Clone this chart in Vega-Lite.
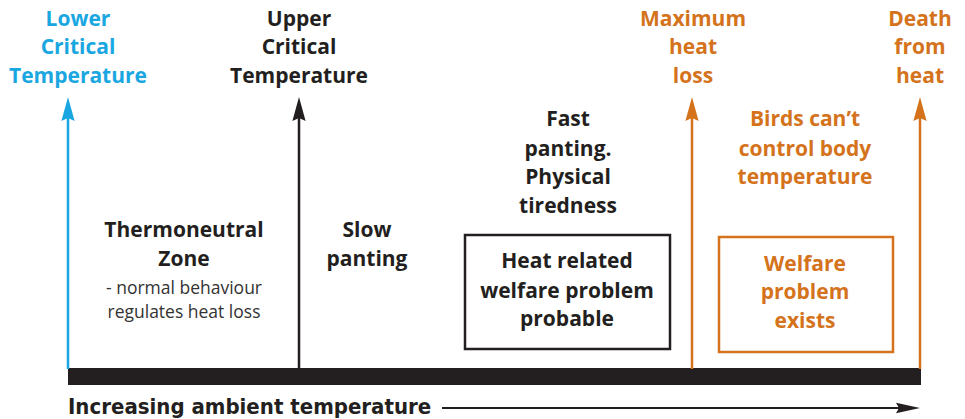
{
  "$schema": "https://vega.github.io/schema/vega-lite/v6.json",
  "width": 965,
  "height": 419,
  "autosize": {"type": "fit", "contains": "padding"},
  "padding": 0,
  "background": "white",
  "config": {"view": {"stroke": null}},
  "encoding": {
    "x": {"field": "x", "type": "quantitative", "scale": {"domain": [0, 965], "nice": false, "zero": false}, "axis": null},
    "y": {"field": "y", "type": "quantitative", "scale": {"domain": [0, 419], "nice": false, "zero": false, "reverse": true}, "axis": null}
  },
  "layer": [
    {
      "data": {"values": [{"x": 68, "x2": 921, "y": 368, "y2": 385}]},
      "mark": {"type": "rect", "color": "#231f20"},
      "encoding": {"x2": {"field": "x2"}, "y2": {"field": "y2"}}
    },
    {
      "data": {"values": [
        {"x": 465, "x2": 670, "y": 235, "y2": 349, "g": "black"},
        {"x": 719, "x2": 893, "y": 237, "y2": 352, "g": "orange"}
      ]},
      "mark": {"type": "rect", "fill": "white", "strokeWidth": 2.5},
      "encoding": {
        "x2": {"field": "x2"}, "y2": {"field": "y2"},
        "stroke": {"field": "g", "type": "nominal", "scale": {"domain": ["blue", "black", "orange"], "range": ["#1aa7e1", "#231f20", "#d4731c"]}, "legend": null}
      }
    },
    {
      "data": {"values": [
        {"x": 68, "y": 112, "y2": 369, "g": "blue"},
        {"x": 299, "y": 112, "y2": 369, "g": "black"},
        {"x": 692, "y": 112, "y2": 369, "g": "orange"},
        {"x": 920, "y": 112, "y2": 369, "g": "orange"}
      ]},
      "mark": {"type": "rule", "strokeWidth": 2.5},
      "encoding": {
        "y2": {"field": "y2"},
        "color": {"field": "g", "type": "nominal", "scale": {"domain": ["blue", "black", "orange"], "range": ["#1aa7e1", "#231f20", "#d4731c"]}, "legend": null}
      }
    },
    {
      "data": {"values": [
        {"x": 68, "y": 117, "g": "blue"},
        {"x": 299, "y": 117, "g": "black"},
        {"x": 692, "y": 117, "g": "orange"},
        {"x": 920, "y": 117, "g": "orange"}
      ]},
      "mark": {"type": "point", "shape": "M0,-1L0.33,0.2L0,0.05L-0.33,0.2Z", "size": 1600, "filled": true, "opacity": 1, "strokeWidth": 0},
      "encoding": {
        "color": {"field": "g", "type": "nominal", "scale": {"domain": ["blue", "black", "orange"], "range": ["#1aa7e1", "#231f20", "#d4731c"]}, "legend": null}
      }
    },
    {
      "data": {"values": [{"x": 442, "x2": 905, "y": 408}]},
      "mark": {"type": "rule", "strokeWidth": 2, "color": "#231f20"},
      "encoding": {"x2": {"field": "x2"}}
    },
    {
      "data": {"values": [{"x": 900, "y": 408}]},
      "mark": {"type": "point", "shape": "M0,-1L0.26,0.2L0,0.05L-0.26,0.2Z", "size": 1600, "angle": 90, "filled": true, "opacity": 1, "strokeWidth": 0, "color": "#231f20"}
    },
    {
      "data": {"values": [
        {"x": 78, "y": 20, "t": "Lower", "g": "blue"},
        {"x": 78, "y": 48, "t": "Critical", "g": "blue"},
        {"x": 78, "y": 77, "t": "Temperature", "g": "blue"},
        {"x": 299, "y": 20, "t": "Upper", "g": "black"},
        {"x": 299, "y": 48, "t": "Critical", "g": "black"},
        {"x": 299, "y": 77, "t": "Temperature", "g": "black"},
        {"x": 693, "y": 20, "t": "Maximum", "g": "orange"},
        {"x": 693, "y": 48, "t": "heat", "g": "orange"},
        {"x": 693, "y": 77, "t": "loss", "g": "orange"},
        {"x": 920, "y": 20, "t": "Death", "g": "orange"},
        {"x": 920, "y": 48, "t": "from", "g": "orange"},
        {"x": 920, "y": 77, "t": "heat", "g": "orange"},
        {"x": 568, "y": 120, "t": "Fast", "g": "black"},
        {"x": 568, "y": 150, "t": "panting.", "g": "black"},
        {"x": 568, "y": 178, "t": "Physical", "g": "black"},
        {"x": 568, "y": 207, "t": "tiredness", "g": "black"},
        {"x": 805, "y": 120, "t": "Birds can\u2019t", "g": "orange"},
        {"x": 805, "y": 150, "t": "control body", "g": "orange"},
        {"x": 805, "y": 178, "t": "temperature", "g": "orange"},
        {"x": 567, "y": 262, "t": "Heat related", "g": "black"},
        {"x": 567, "y": 292, "t": "welfare problem", "g": "black"},
        {"x": 567, "y": 320, "t": "probable", "g": "black"},
        {"x": 805, "y": 265, "t": "Welfare", "g": "orange"},
        {"x": 805, "y": 293, "t": "problem", "g": "orange"},
        {"x": 805, "y": 322, "t": "exists", "g": "orange"},
        {"x": 184, "y": 231, "t": "Thermoneutral", "g": "black"},
        {"x": 184, "y": 260, "t": "Zone", "g": "black"},
        {"x": 367, "y": 231, "t": "Slow", "g": "black"},
        {"x": 367, "y": 260, "t": "panting", "g": "black"}
      ]},
      "mark": {"type": "text", "font": "Open Sans", "fontWeight": "bold", "fontSize": 21, "align": "center", "baseline": "middle"},
      "encoding": {
        "text": {"field": "t"},
        "color": {"field": "g", "type": "nominal", "scale": {"domain": ["blue", "black", "orange"], "range": ["#1aa7e1", "#231f20", "#d4731c"]}, "legend": null}
      }
    },
    {
      "data": {"values": [
        {"x": 184, "y": 289, "t": "- normal behaviour"},
        {"x": 184, "y": 313, "t": "regulates heat loss"}
      ]},
      "mark": {"type": "text", "font": "Open Sans", "fontSize": 17.5, "align": "center", "baseline": "middle", "color": "#333333"},
      "encoding": {"text": {"field": "t"}}
    },
    {
      "data": {"values": [{"x": 68, "y": 407, "t": "Increasing ambient temperature"}]},
      "mark": {"type": "text", "font": "'DejaVu Sans Condensed', Roboto, sans-serif", "fontWeight": "bold", "fontSize": 22, "align": "left", "baseline": "middle", "color": "#231f20"},
      "encoding": {"text": {"field": "t"}}
    }
  ]
}
